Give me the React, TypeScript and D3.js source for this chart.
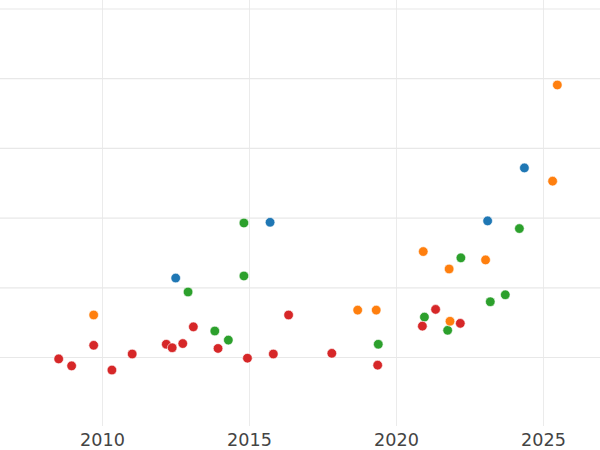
import React from "react";
import * as d3 from "d3";

const redX = [2008.51, 2008.95, 2009.70, 2010.32, 2011.01, 2012.17, 2012.37, 2012.73, 2013.09, 2013.93, 2014.93, 2015.81, 2016.33, 2017.80, 2019.36, 2020.88, 2021.33, 2022.17];
const redY = [-0.02, -0.12, 0.175, -0.18, 0.05, 0.19, 0.14, 0.2, 0.44, 0.13, -0.01, 0.05, 0.61, 0.06, -0.11, 0.45, 0.69, 0.49];
const orangeX = [2009.70, 2018.68, 2019.31, 2020.91, 2021.79, 2021.82, 2023.03, 2025.31, 2025.47];
const orangeY = [0.61, 0.68, 0.68, 1.52, 1.27, 0.52, 1.40, 2.53, 3.91];
const greenX = [2012.91, 2013.82, 2014.28, 2014.81, 2014.81, 2019.38, 2020.95, 2021.74, 2022.19, 2023.19, 2023.70, 2024.18];
const greenY = [0.94, 0.38, 0.25, 1.17, 1.93, 0.19, 0.58, 0.39, 1.43, 0.80, 0.90, 1.85];
const blueX = [2012.49, 2015.70, 2023.10, 2024.35];
const blueY = [1.14, 1.94, 1.96, 2.72];

const xTicks = [2010, 2015, 2020, 2025];
const yGrid = [0, 1, 2, 3, 4, 5];

const series = [
  { name: "blue", color: "#1f77b4", xs: blueX, ys: blueY },
  { name: "green", color: "#2ca02c", xs: greenX, ys: greenY },
  { name: "orange", color: "#ff7f0e", xs: orangeX, ys: orangeY },
  { name: "red", color: "#d62728", xs: redX, ys: redY },
];

export default function App() {
  const W = 600, H = 450;
  const plotBottom = 426;
  const x = d3.scaleLinear().domain([2010, 2025]).range([102.5, 543.5]);
  const y = d3.scaleLinear().domain([0, 5]).range([357.5, 9]);

  return (
    <svg width={W} height={H} style={{ position: "fixed", left: 0, top: 0, background: "#fff" }}>
      <rect x={0} y={0} width={W} height={H} fill="#fff" />
      {xTicks.map((t) => (
        <line key={"vx" + t} x1={x(t)} x2={x(t)} y1={0} y2={plotBottom} stroke="#ebebeb" strokeWidth={1} />
      ))}
      {yGrid.map((v) => (
        <line key={"hy" + v} x1={0} x2={W} y1={y(v)} y2={y(v)} stroke="#e8e8e8" strokeWidth={1.2} />
      ))}
      {series.map((s) =>
        s.xs.map((xv, i) => (
          <circle key={s.name + i} cx={x(xv)} cy={y(s.ys[i])} r={4.8} fill={s.color} stroke="#fff" strokeWidth={0.6} />
        ))
      )}
      {xTicks.map((t) => (
        <text key={"tx" + t} x={x(t)} y={446} textAnchor="middle" fontFamily="DejaVu Sans" fontSize={17.6} fill="#444">
          {t}
        </text>
      ))}
    </svg>
  );
}
